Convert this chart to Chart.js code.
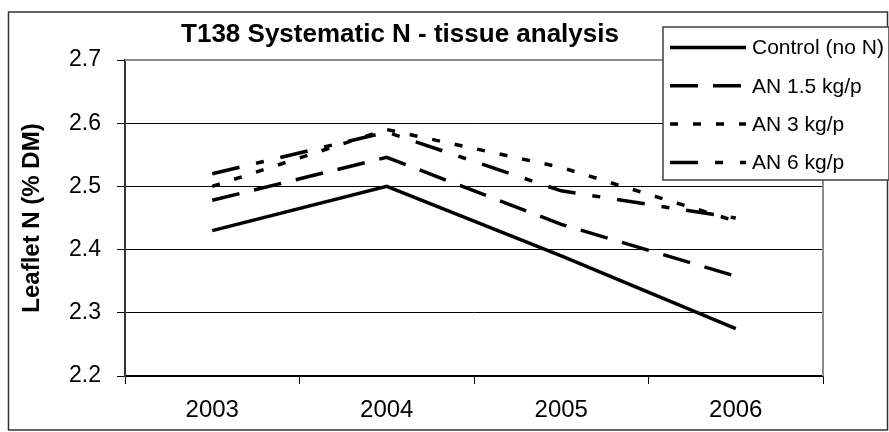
<!DOCTYPE html>
<html>
<head>
  <title>T138 Systematic N - tissue analysis</title>
  <script src="https://cdn.jsdelivr.net/npm/chart.js"></script>
  <style>
    body { margin: 0; background: #fff; }
    #wrap { width: 889px; height: 432px; }
  </style>
</head>
<body>
  <div id="wrap"><canvas id="tissueChart"></canvas></div>

  <script>
    // data
    var years = ["2003", "2004", "2005", "2006"];
    var controlN = [2.43, 2.50, 2.39, 2.275];
    var an15 = [2.478, 2.546, 2.44, 2.358];
    var an3 = [2.50, 2.59, 2.53, 2.445];
    var an6 = [2.52, 2.586, 2.493, 2.45];
    var seriesNames = ["Control (no N)", "AN 1.5 kg/p", "AN 3 kg/p", "AN 6 kg/p"];
    var yTicks = [2.2, 2.3, 2.4, 2.5, 2.6, 2.7];
    var chartTitle = "T138 Systematic N - tissue analysis";
    var yTitle = "Leaflet N (% DM)";

    Chart.defaults.font.family = "'Liberation Sans', Arial, sans-serif";
    Chart.defaults.color = "#000";

    function makeSet(label, data, dash) {
      return {
        label: label,
        data: data,
        borderColor: "#000",
        backgroundColor: "#000",
        borderWidth: 3.5,
        borderDash: dash,
        pointRadius: 0,
        tension: 0,
        fill: false
      };
    }

    // border, title and the legend box that sits over the plot
    var framePlugin = {
      id: "frame",
      afterDraw: function(chart) {
        var ctx = chart.ctx;
        var a = chart.chartArea;
        ctx.save();

        ctx.strokeStyle = "#8c8c8c";
        ctx.lineWidth = 2;
        ctx.beginPath();
        ctx.moveTo(a.left, a.top);
        ctx.lineTo(a.right, a.top);
        ctx.lineTo(a.right, a.bottom);
        ctx.stroke();

        ctx.strokeStyle = "#333";
        ctx.lineWidth = 1.5;
        ctx.strokeRect(8.5, 12, 879, 418);

        ctx.fillStyle = "#000";
        ctx.font = "bold 26px 'Liberation Sans', Arial, sans-serif";
        ctx.textAlign = "center";
        ctx.textBaseline = "alphabetic";
        ctx.fillText(chartTitle, 400, 41.5);

        // legend
        var lx = 663, ly = 27, lw = 226, lh = 153;
        ctx.fillStyle = "#fff";
        ctx.fillRect(lx, ly, lw, lh);
        ctx.strokeStyle = "#404040";
        ctx.lineWidth = 1.5;
        ctx.strokeRect(lx, ly, lw, lh);

        ctx.textAlign = "left";
        ctx.textBaseline = "middle";
        ctx.font = "21px 'Liberation Sans', Arial, sans-serif";
        chart.data.datasets.forEach(function(ds, i) {
          var y = 47.5 + i * 38.3;
          ctx.setLineDash(ds.borderDash || []);
          ctx.strokeStyle = ds.borderColor;
          ctx.lineWidth = 3.5;
          ctx.beginPath();
          ctx.moveTo(670, y);
          ctx.lineTo(746, y);
          ctx.stroke();
          ctx.setLineDash([]);
          ctx.fillStyle = "#000";
          ctx.fillText(ds.label, 752, y + 1);
        });

        ctx.restore();
      }
    };

    var tissueChart = new Chart("tissueChart", {
      type: "line",
      data: {
        labels: years,
        datasets: [
          makeSet(seriesNames[0], controlN, []),
          makeSet(seriesNames[1], an15, [28, 15]),
          makeSet(seriesNames[2], an3, [8, 15]),
          makeSet(seriesNames[3], an6, [28, 17, 8, 17])
        ]
      },
      options: {
        responsive: true,
        maintainAspectRatio: false,
        animation: false,
        layout: {
          padding: { top: 60, right: 66, left: 8, bottom: 0 }
        },
        plugins: {
          legend: { display: false },
          title: { display: false },
          tooltip: { enabled: false }
        },
        scales: {
          x: {
            offset: true,
            grid: {
              offset: true,
              drawOnChartArea: false,
              drawTicks: true,
              tickLength: 8,
              color: "#000"
            },
            border: { color: "#000", width: 1.5 },
            ticks: {
              font: { size: 24 },
              padding: 12,
              maxRotation: 0
            },
            afterFit: function(axis) { axis.height = 56; }
          },
          y: {
            min: 2.2,
            max: 2.7,
            afterBuildTicks: function(axis) {
              axis.ticks = yTicks.map(function(v) { return { value: v }; });
            },
            grid: {
              color: "#000",
              lineWidth: 1,
              tickLength: 8
            },
            border: { color: "#333", width: 2 },
            ticks: {
              font: { size: 23 },
              padding: 16,
              callback: function(v) { return Number(v).toFixed(1); }
            },
            title: {
              display: true,
              text: yTitle,
              font: { size: 24, weight: "bold" },
              padding: { top: 10, bottom: 0 }
            },
            afterFit: function(axis) { axis.width = 117; }
          }
        }
      },
      plugins: [framePlugin]
    });
  </script>
</body>
</html>
